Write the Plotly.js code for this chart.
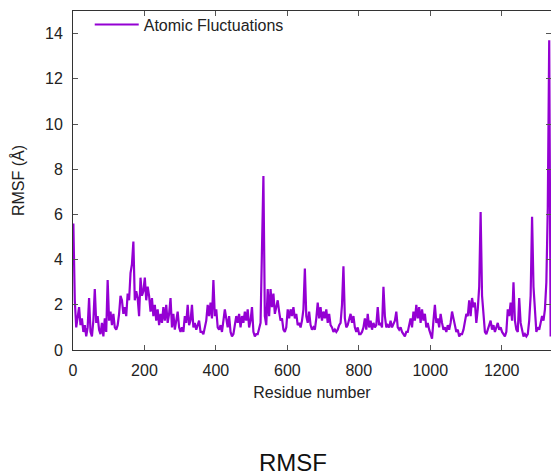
<!DOCTYPE html>
<html>
<head>
<meta charset="utf-8">
<script src="https://cdn.plot.ly/plotly-3.0.1.min.js"></script>
<style>html,body{margin:0;padding:0;overflow:hidden;background:#fff}</style>
</head>
<body>
<div id="chart" style="width:551px;height:475px"></div>
<script>
// RMSF per residue, sampled every 4 residues starting at residue 1
const firstResidue = 1;
const residueStep = 4;
const rmsf = [
  5.6, 2.2, 1.0, 1.5, 1.9, 1.1, 1.4, 0.8, 1.1, 0.6, 1.0, 2.3, 0.8, 0.6, 1.3,
  2.7, 1.2, 1.5, 0.9, 0.7, 1.2, 0.6, 1.4, 0.8, 3.1, 1.3, 1.7, 1.1, 1.6, 1.0,
  0.9, 1.1, 1.6, 2.4, 2.2, 1.6, 1.9, 1.5, 2.5, 2.2, 3.4, 3.8, 4.8, 2.2, 2.6,
  2.3, 1.5, 3.2, 2.4, 2.6, 3.2, 2.2, 2.8, 2.4, 1.7, 2.3, 1.5, 2.0, 1.3, 1.8,
  1.1, 1.6, 1.2, 1.9, 1.3, 2.0, 1.2, 1.6, 2.3, 1.0, 1.6, 0.9, 1.3, 1.7, 1.0,
  0.8, 1.0, 0.8, 1.5, 1.2, 2.0, 1.1, 1.3, 2.0, 1.0, 1.2, 0.9, 1.1, 1.3, 0.8,
  0.8, 0.7, 1.0, 1.3, 2.0, 1.5, 2.1, 1.4, 3.1, 1.5, 1.8, 1.0, 0.9, 1.1, 0.8,
  1.2, 1.8, 1.4, 1.0, 1.5, 0.8, 0.6, 0.7, 1.1, 1.5, 1.2, 1.6, 1.0, 1.5, 1.2,
  1.7, 1.3, 1.8, 1.0, 1.3, 1.9, 0.8, 0.6, 0.7, 0.7, 0.9, 1.2, 4.5, 7.7, 1.5,
  1.1, 2.7, 1.5, 2.7, 1.9, 2.5, 1.6, 1.9, 2.2, 1.7, 1.3, 1.4, 0.9, 0.8, 1.0,
  1.8, 1.4, 1.8, 1.5, 1.9, 1.4, 1.6, 1.1, 1.2, 1.0, 1.3, 1.8, 3.6, 1.5, 1.2,
  1.7, 1.1, 0.9, 1.0, 0.9, 1.4, 2.1, 1.4, 1.9, 1.3, 1.7, 1.4, 1.8, 1.2, 1.6,
  1.1, 1.0, 0.8, 0.9, 0.8, 0.9, 1.1, 1.2, 2.0, 3.7, 1.4, 1.0, 1.1, 1.3, 1.6,
  1.2, 1.5, 1.0, 0.8, 1.0, 0.7, 0.7, 0.8, 1.0, 1.4, 0.9, 1.6, 1.0, 1.3, 0.9,
  1.2, 1.0, 1.1, 1.9, 1.1, 1.2, 1.0, 2.8, 1.5, 1.0, 1.1, 1.0, 1.3, 1.0, 1.2,
  1.3, 1.7, 1.0, 0.9, 1.0, 0.8, 0.7, 0.6, 0.8, 0.8, 1.1, 1.4, 1.0, 1.7, 1.3,
  2.0, 1.4, 1.9, 1.2, 1.8, 1.3, 1.6, 1.0, 1.2, 0.9, 0.7, 0.5, 1.3, 2.0, 1.2,
  1.4, 1.0, 1.6, 1.2, 0.9, 1.0, 0.8, 1.1, 0.9, 1.2, 1.7, 1.4, 1.0, 0.8, 0.9,
  0.6, 0.7, 0.7, 0.9, 1.2, 1.6, 1.5, 2.2, 1.5, 2.3, 1.9, 2.1, 1.2, 1.8, 2.8,
  6.1, 2.4, 1.4, 0.8, 0.7, 0.9, 1.0, 1.3, 0.9, 1.1, 0.8, 1.0, 1.2, 0.9, 1.0,
  0.8, 0.7, 0.6, 0.8, 1.8, 1.5, 2.1, 1.3, 3.0, 1.3, 0.9, 0.8, 2.3, 1.2, 0.8,
  0.6, 0.7, 0.6, 0.7, 1.3, 2.4, 5.9, 2.8, 1.5, 0.8, 1.0, 0.9, 1.2, 1.5, 1.3,
  1.8, 3.0, 6.3, 13.7, 0.6
];
const xTicks = [0, 200, 400, 600, 800, 1000, 1200];
const yTicks = [0, 2, 4, 6, 8, 10, 12, 14];
const seriesName = 'Atomic Fluctuations';

const font = 'Liberation Sans, Arial, sans-serif';
const trace = {
  type: 'scatter', mode: 'lines', name: seriesName,
  x0: firstResidue, dx: residueStep, y: rmsf,
  line: {color: '#9400d3', width: 2.2}
};
const axisCommon = {
  showline: true, linecolor: '#333', linewidth: 1, mirror: 'ticks',
  ticks: 'inside', ticklen: 5, tickcolor: '#555', tickwidth: 1,
  showgrid: false, zeroline: false,
  tickfont: {family: font, size: 16, color: '#222'}
};
const layout = {
  width: 551, height: 475,
  margin: {l: 73, r: 0, t: 11, b: 125},
  paper_bgcolor: '#fff', plot_bgcolor: '#fff',
  font: {family: font, color: '#222'},
  title: {text: 'RMSF', font: {family: font, size: 24, color: '#111'},
          xref: 'paper', x: 0.46, xanchor: 'center', yref: 'container', y: 0.026, yanchor: 'middle'},
  xaxis: Object.assign({}, axisCommon, {
    range: [0, 1338], tickvals: xTicks, ticktext: xTicks.map(String),
    ticklabelstandoff: 6,
    title: {text: 'Residue number', font: {family: font, size: 16, color: '#222'}, standoff: 8}
  }),
  yaxis: Object.assign({}, axisCommon, {
    range: [0, 15], tickvals: yTicks, ticktext: yTicks.map(String),
    ticklabelstandoff: 6,
    title: {text: 'RMSF (Å)', font: {family: font, size: 16, color: '#222'}, standoff: 16}
  }),
  showlegend: true,
  legend: {x: 0.035, y: 1.01, xanchor: 'left', yanchor: 'top', bgcolor: 'rgba(0,0,0,0)',
           itemwidth: 44, borderwidth: 0, font: {family: font, size: 16, color: '#222'}}
};
Plotly.newPlot('chart', [trace], layout, {staticPlot: true, displayModeBar: false});
</script>
</body>
</html>
